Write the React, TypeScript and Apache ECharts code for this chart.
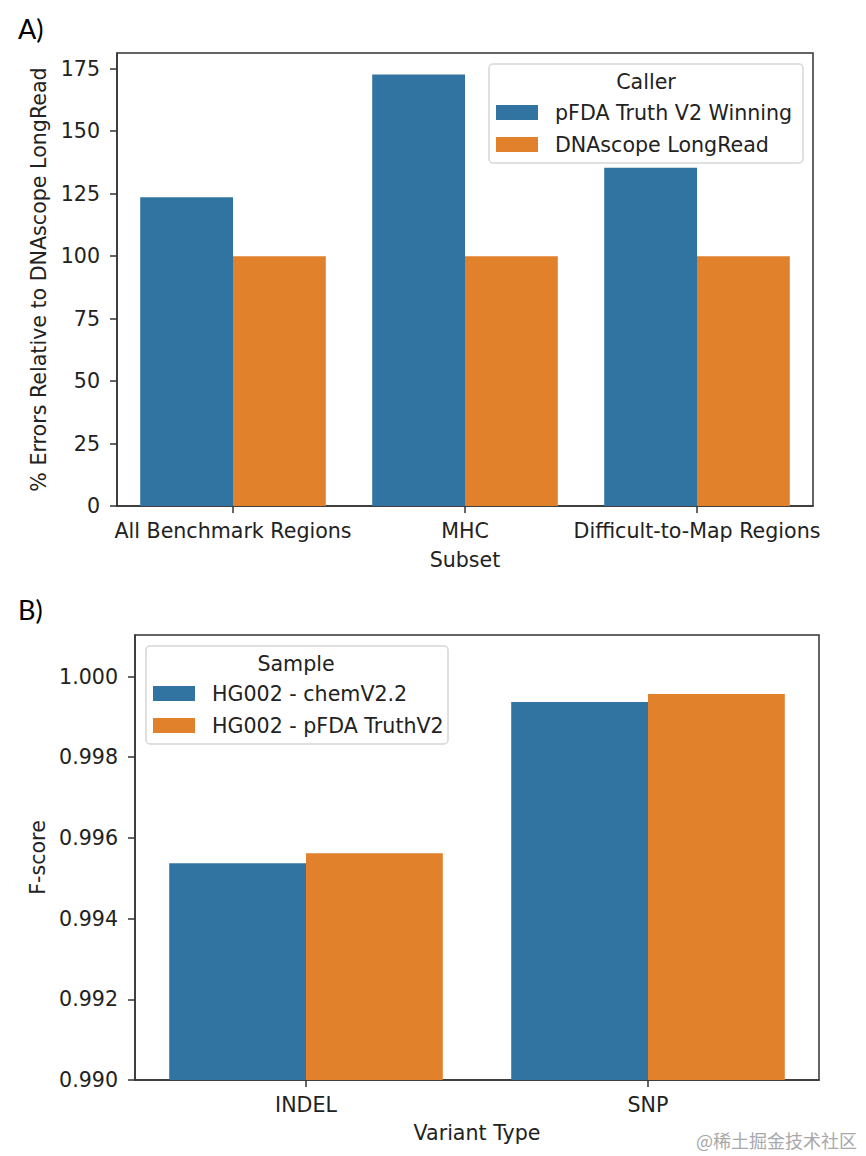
import React, { useEffect, useRef } from "react";
import * as echarts from "echarts";

const categoriesA = ["All Benchmark Regions", "MHC", "Difficult-to-Map Regions"];
const pfdaWinning = [123.6, 172.7, 135.4];
const dnascopeLongRead = [100, 100, 100];
const yTicksA = [0, 25, 50, 75, 100, 125, 150, 175];

const categoriesB = ["INDEL", "SNP"];
const chemV22 = [0.99537, 0.99937];
const pfdaTruthV2 = [0.99562, 0.99957];
const yTicksB = [0.99, 0.992, 0.994, 0.996, 0.998, 1.0];

const BLUE = "#3274a1";
const ORANGE = "#e1812c";
const FONT = "DejaVu Sans";
const FS = 20.6;
const INK = "#222222";
const FRAME = "#333333";

export default function App() {
  const ref = useRef<HTMLDivElement>(null);
  useEffect(() => {
    if (!ref.current) return;
    const chart = echarts.init(ref.current, null, { renderer: "svg" });
    const axisLabelStyle = { color: INK, fontSize: FS, fontFamily: FONT };
    const option: any = {
      animation: false,
      backgroundColor: "#ffffff",
      grid: [
        { left: 117, top: 53, width: 696, height: 453, show: true, borderColor: FRAME, borderWidth: 1.5, backgroundColor: "transparent" },
        { left: 135, top: 635, width: 684, height: 445, show: true, borderColor: FRAME, borderWidth: 1.5, backgroundColor: "transparent" },
      ],
      xAxis: [
        {
          type: "category", gridIndex: 0, data: categoriesA,
          axisLine: { show: true, lineStyle: { color: FRAME, width: 1.5 } },
          axisTick: { show: true, alignWithLabel: true, length: 7, lineStyle: { color: FRAME, width: 1.5 } },
          axisLabel: { ...axisLabelStyle, margin: 14, interval: 0 },
          name: "Subset", nameLocation: "middle", nameGap: 43,
          nameTextStyle: { ...axisLabelStyle },
        },
        {
          type: "category", gridIndex: 1, data: categoriesB,
          axisLine: { show: true, lineStyle: { color: FRAME, width: 1.5 } },
          axisTick: { show: true, alignWithLabel: true, length: 7, lineStyle: { color: FRAME, width: 1.5 } },
          axisLabel: { ...axisLabelStyle, margin: 14, interval: 0 },
          name: "Variant Type", nameLocation: "middle", nameGap: 42,
          nameTextStyle: { ...axisLabelStyle },
        },
      ],
      yAxis: [
        {
          type: "value", gridIndex: 0, min: 0, max: 181.3,
          splitLine: { show: false },
          axisLine: { show: true, lineStyle: { color: FRAME, width: 1.5 } },
          axisTick: { show: true, length: 7, customValues: yTicksA, lineStyle: { color: FRAME, width: 1.5 } },
          axisLabel: { ...axisLabelStyle, margin: 17, customValues: yTicksA },
          name: "% Errors Relative to DNAscope LongRead", nameLocation: "middle", nameGap: 67,
          nameTextStyle: { ...axisLabelStyle },
        },
        {
          type: "value", gridIndex: 1, min: 0.99, max: 1.00103,
          splitLine: { show: false },
          axisLine: { show: true, lineStyle: { color: FRAME, width: 1.5 } },
          axisTick: { show: true, length: 7, customValues: yTicksB, lineStyle: { color: FRAME, width: 1.5 } },
          axisLabel: { ...axisLabelStyle, margin: 17, customValues: yTicksB, formatter: (v: number) => v.toFixed(3) },
          name: "F-score", nameLocation: "middle", nameGap: 85,
          nameTextStyle: { ...axisLabelStyle },
        },
      ],
      legend: [
        {
          data: ["pFDA Truth V2 Winning", "DNAscope LongRead"],
          orient: "vertical", left: 496, top: 102, padding: 0,
          itemWidth: 42, itemHeight: 15, itemGap: 11, icon: "rect",
          textStyle: { color: INK, fontSize: FS, fontFamily: FONT, lineHeight: 20, padding: [0, 0, 0, 12] },
        },
        {
          data: ["HG002 - chemV2.2", "HG002 - pFDA TruthV2"],
          orient: "vertical", left: 153, top: 683, padding: 0,
          itemWidth: 42, itemHeight: 15, itemGap: 11, icon: "rect",
          textStyle: { color: INK, fontSize: FS, fontFamily: FONT, lineHeight: 20, padding: [0, 0, 0, 12] },
        },
      ],
      series: [
        { name: "pFDA Truth V2 Winning", type: "bar", xAxisIndex: 0, yAxisIndex: 0, data: pfdaWinning, barWidth: "40%", barGap: "0%", itemStyle: { color: BLUE } },
        { name: "DNAscope LongRead", type: "bar", xAxisIndex: 0, yAxisIndex: 0, data: dnascopeLongRead, barWidth: "40%", barGap: "0%", itemStyle: { color: ORANGE } },
        { name: "HG002 - chemV2.2", type: "bar", xAxisIndex: 1, yAxisIndex: 1, data: chemV22, barWidth: "40%", barGap: "0%", clip: true, itemStyle: { color: BLUE } },
        { name: "HG002 - pFDA TruthV2", type: "bar", xAxisIndex: 1, yAxisIndex: 1, data: pfdaTruthV2, barWidth: "40%", barGap: "0%", clip: true, itemStyle: { color: ORANGE } },
      ],
      graphic: [
        { type: "rect", z: -1, shape: { x: 489, y: 64, width: 314, height: 99, r: 4 }, style: { fill: "rgba(255,255,255,0.85)", stroke: "#d6d6d6", lineWidth: 1.5 } },
        { type: "text", x: 646, y: 82, style: { text: "Caller", fill: INK, font: `${FS}px '${FONT}'`, align: "center", verticalAlign: "middle" } },
        { type: "rect", z: -1, shape: { x: 146, y: 646, width: 302, height: 98, r: 4 }, style: { fill: "rgba(255,255,255,0.85)", stroke: "#d6d6d6", lineWidth: 1.5 } },
        { type: "text", x: 296, y: 664, style: { text: "Sample", fill: INK, font: `${FS}px '${FONT}'`, align: "center", verticalAlign: "middle" } },
        { type: "text", x: 18, y: 28, style: { text: "A)", fill: "#000", font: "27px Lato", verticalAlign: "middle" } },
        { type: "text", x: 18, y: 609, style: { text: "B)", fill: "#000", font: "27px Lato", verticalAlign: "middle" } },
        { type: "text", x: 857, y: 1140, style: { text: "@稀土掘金技术社区", fill: "#a8a8a8", font: "18px 'Noto Sans CJK SC'", align: "right", verticalAlign: "middle" } },
      ],
    };
    chart.setOption(option);
    return () => chart.dispose();
  }, []);
  return <div ref={ref} style={{ position: "absolute", left: 0, top: 0, width: 866, height: 1156 }} />;
}
